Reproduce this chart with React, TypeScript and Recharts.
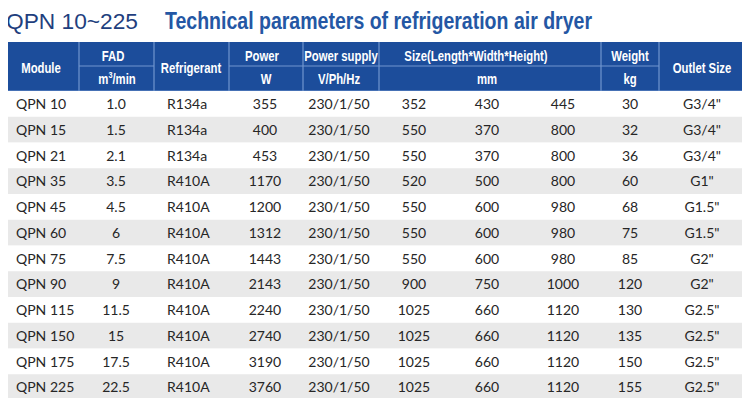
import React from 'react';
import { ComposedChart, Bar, XAxis, YAxis, Cell, LabelList, Customized } from 'recharts';

// ---- data ----
const modules = ['QPN 10', 'QPN 15', 'QPN 21', 'QPN 35', 'QPN 45', 'QPN 60', 'QPN 75', 'QPN 90', 'QPN 115', 'QPN 150', 'QPN 175', 'QPN 225'];
const fad = ['1.0', '1.5', '2.1', '3.5', '4.5', '6', '7.5', '9', '11.5', '15', '17.5', '22.5'];
const refrigerants = ['R134a', 'R134a', 'R134a', 'R410A', 'R410A', 'R410A', 'R410A', 'R410A', 'R410A', 'R410A', 'R410A', 'R410A'];
const powerW = [355, 400, 453, 1170, 1200, 1312, 1443, 2143, 2240, 2740, 3190, 3760];
const powerSupply = ['230/1/50', '230/1/50', '230/1/50', '230/1/50', '230/1/50', '230/1/50', '230/1/50', '230/1/50', '230/1/50', '230/1/50', '230/1/50', '230/1/50'];
const lengthMm = [352, 550, 550, 520, 550, 550, 550, 900, 1025, 1025, 1025, 1025];
const widthMm = [430, 370, 370, 500, 600, 600, 600, 750, 660, 660, 660, 660];
const heightMm = [445, 800, 800, 800, 980, 980, 980, 1000, 1120, 1120, 1120, 1120];
const weightKg = [30, 32, 36, 60, 68, 75, 85, 120, 130, 135, 150, 155];
const outlets = ['G3/4"', 'G3/4"', 'G3/4"', 'G1"', 'G1.5"', 'G1.5"', 'G2"', 'G2"', 'G2.5"', 'G2.5"', 'G2.5"', 'G2.5"'];

const titleLeft = 'QPN 10~225';
const titleRight = 'Technical parameters of refrigeration air dryer';

const rows = modules.map((m, i) => ({
  module: m,
  fad: fad[i],
  refrigerant: refrigerants[i],
  power: powerW[i],
  supply: powerSupply[i],
  length: lengthMm[i],
  width: widthMm[i],
  height: heightMm[i],
  weight: weightKg[i],
  outlet: outlets[i],
  band: 1,
}));

// ---- layout / style ----
const W = 750;
const H = 406;
const HEADER_FILL = '#1c4d9b';
const HEADER_LINE = '#7196cf';
const STRIPE = '#e9e9e9';
const TEXT = '#262626';
const DATA_FONT = "Lato, 'Open Sans', sans-serif";
const HEAD_FONT = "Arial, 'Liberation Sans', sans-serif";
const HEAD_SCALE = 0.81;

// column text anchors: [key, x, anchor]
const dataCols: [string, number, 'start' | 'middle'][] = [
  ['module', 16, 'start'],
  ['fad', 116, 'middle'],
  ['refrigerant', 167, 'start'],
  ['power', 265, 'middle'],
  ['supply', 339, 'middle'],
  ['length', 414, 'middle'],
  ['width', 487, 'middle'],
  ['height', 563, 'middle'],
  ['weight', 630, 'middle'],
  ['outlet', 702, 'middle'],
];

const RowText = (props: any) => {
  const vb = props.viewBox || props;
  const y = Number(vb.y);
  const h = Number(vb.height);
  const idx = modules.indexOf(props.value);
  if (idx < 0) return null;
  const row: any = rows[idx];
  const cy = y + h / 2 + 5;
  return (
    <g>
      {dataCols.map(([k, x, anchor]) => (
        <text key={k} x={x} y={cy} textAnchor={anchor} fontFamily={DATA_FONT} fontSize={14} fill={TEXT}>
          {row[k]}
        </text>
      ))}
    </g>
  );
};

const Header = () => {
  const top = 42;
  const mid = 66;
  const bottom = 91;
  const left = 6;
  const right = 745;
  const vlines = [79, 154, 229, 303, 379, 601, 659];
  const ht = (x: number, y: number, s: React.ReactNode) => (
    <text
      transform={`translate(${x},${y}) scale(${HEAD_SCALE},1)`}
      x={0}
      y={0}
      textAnchor="middle"
      fontFamily={HEAD_FONT}
      fontWeight="bold"
      fontSize={14}
      fill="#ffffff"
    >
      {s}
    </text>
  );
  return (
    <g>
      <text x={6} y={29} fontFamily="Arial, 'Liberation Sans', sans-serif" fontSize={22} fill="#1f3f7e" textLength={132} lengthAdjust="spacingAndGlyphs">
        {titleLeft}
      </text>
      <text x={165} y={29} fontFamily={HEAD_FONT} fontWeight="bold" fontSize={24} fill="#2457a4" textLength={427} lengthAdjust="spacingAndGlyphs">
        {titleRight}
      </text>
      <rect x={left} y={top} width={right - left} height={bottom - top} fill={HEADER_FILL} />
      {vlines.map((x) => (
        <line key={x} x1={x} x2={x} y1={top} y2={bottom} stroke={HEADER_LINE} strokeWidth={1.2} />
      ))}
      <line x1={79} x2={154} y1={mid} y2={mid} stroke={HEADER_LINE} strokeWidth={1.2} />
      <line x1={229} x2={659} y1={mid} y2={mid} stroke={HEADER_LINE} strokeWidth={1.2} />
      <line x1={left} x2={right} y1={bottom} y2={bottom} stroke={HEADER_LINE} strokeWidth={1} />
      {ht(41, 73, 'Module')}
      {ht(113, 61, 'FAD')}
      {ht(117, 84, <>m<tspan dy={-6} fontSize={9}>3</tspan><tspan dy={6}>/min</tspan></>)}
      {ht(191, 73, 'Refrigerant')}
      {ht(262, 61, 'Power')}
      {ht(266, 84, 'W')}
      {ht(341, 61, 'Power supply')}
      {ht(339, 84, 'V/Ph/Hz')}
      {ht(476, 61, 'Size(Length*Width*Height)')}
      {ht(487, 84, 'mm')}
      {ht(630, 61, 'Weight')}
      {ht(630, 84, 'kg')}
      {ht(702, 73, 'Outlet Size')}
    </g>
  );
};

export default function App() {
  return (
    <div style={{ width: W, height: H, margin: '-8px', background: '#fff' }}>
      <ComposedChart
        width={W}
        height={H}
        data={rows}
        layout="vertical"
        margin={{ top: 91, right: 3, bottom: 6, left: 6 }}
        barCategoryGap={0}
        barGap={0}
      >
        <XAxis type="number" domain={[0, 1]} hide />
        <YAxis type="category" dataKey="module" hide width={0} />
        <Bar dataKey="band" isAnimationActive={false}>
          {rows.map((r, i) => (
            <Cell key={r.module} fill={i % 2 === 1 ? STRIPE : '#ffffff'} />
          ))}
          <LabelList dataKey="module" content={<RowText />} />
        </Bar>
        <Customized component={<Header />} />
      </ComposedChart>
    </div>
  );
}
